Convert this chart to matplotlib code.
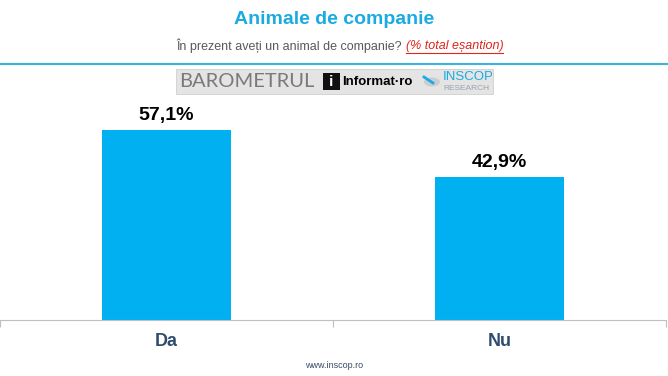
import matplotlib.pyplot as plt
from matplotlib.patches import Rectangle, Circle

plt.rcParams["font.family"] = ["Liberation Sans", "DejaVu Sans"]

categories = ["Da", "Nu"]
values = [57.1, 42.9]
value_labels = ["57,1%", "42,9%"]

title = "Animale de companie"
question = "În prezent aveți un animal de companie? "
base_note = "(% total eșantion)"
footer = "www.inscop.ro"

BAR_COLOR = "#00B0F0"
TITLE_COLOR = "#1AABE2"
CAT_COLOR = "#2F4B6E"

fig = plt.figure(figsize=(6.68, 3.76), dpi=100)
fig.patch.set_facecolor("white")

ax = fig.add_axes([0, 56 / 376, 666 / 668, 220 / 376])
x = list(range(len(categories)))
ax.bar(x, values, width=0.39, color=BAR_COLOR)
for xi, v, lab in zip(x, values, value_labels):
    ax.annotate(lab, (xi, v), xytext=(0, 4), textcoords="offset points",
                ha="center", va="bottom", fontsize=14, fontweight="bold", color="black")
ax.set_xlim(-0.5, len(categories) - 0.5)
ax.set_ylim(0, 66)
ax.set_yticks([])
for s in ["top", "right", "left"]:
    ax.spines[s].set_visible(False)
ax.spines["bottom"].set_color("#BFBFBF")
ax.set_xticks([i - 0.5 for i in range(len(categories) + 1)])
ax.set_xticklabels([])
ax.tick_params(axis="x", which="major", length=5, color="#BFBFBF", direction="out")
ax.set_xticks(x, minor=True)
ax.set_xticklabels(categories, minor=True, fontsize=13, fontweight="bold", color=CAT_COLOR)
ax.tick_params(axis="x", which="minor", length=0, pad=9)
ax.patch.set_alpha(0)

# header
fig.text(0.5, 1 - 19 / 376, title, ha="center", va="center", fontsize=14,
         fontweight="bold", color=TITLE_COLOR)

fig.canvas.draw()
r = fig.canvas.get_renderer()
t1 = fig.text(0, 0, question, fontsize=9, color="#595959")
t2 = fig.text(0, 0, base_note, fontsize=9, color="#E0251B", style="italic")
w1 = t1.get_window_extent(r).width
w2 = t2.get_window_extent(r).width
W = fig.bbox.width
x0 = (W - w1 - w2) / 2 + 6
ysub = 1 - 46 / 376
t1.set_position((x0 / W, ysub))
t2.set_position(((x0 + w1) / W, ysub))
t1.set_va("center")
t2.set_va("center")
fig.add_artist(plt.Line2D([(x0 + w1) / W, (x0 + w1 + w2) / W], [ysub - 7 / 376] * 2,
                          color="#E0251B", lw=0.8, transform=fig.transFigure))

fig.add_artist(plt.Line2D([0, 1], [1 - 64 / 376] * 2, color="#3CB4DC", lw=1.5,
                          transform=fig.transFigure))

# logo band
fy = lambda py: 1 - py / 376
fx = lambda px: px / 668
fig.add_artist(Rectangle((fx(176), fy(94)), fx(317), 25 / 376, transform=fig.transFigure,
                         facecolor="#E4E4E4", edgecolor="#D0D0D0", lw=0.6))
fig.text(fx(179), fy(81.5), "BAROMETRUL", fontsize=14.5, color="#7A7A7A", va="center",
         family="Lato")
fig.add_artist(Rectangle((fx(323), fy(90)), fx(17), 17 / 376, transform=fig.transFigure,
                         facecolor="#111111", edgecolor="none"))
fig.text(fx(331.5), fy(81.5), "i", fontsize=11, color="white", fontweight="bold",
         ha="center", va="center")
fig.text(fx(342), fy(82), "Informat·ro", fontsize=9.5, color="black", fontweight="bold",
         va="center")
fig.add_artist(Circle((fx(432), fy(82)), 8 / 668, transform=fig.transFigure,
                      facecolor="#C9CDD2", edgecolor="none"))
fig.add_artist(plt.Line2D([fx(424), fx(433)], [fy(77), fy(83)], color="#1AABE2", lw=2,
                          transform=fig.transFigure))
fig.text(fx(443), fy(77), "INSCOP", fontsize=9.5, color="#1AABE2", va="center")
fig.text(fx(443), fy(88), "RESEARCH", fontsize=6, color="#9AA3AD", va="center")

fig.text(0.5, 1 - 366 / 376, footer, ha="center", va="center", fontsize=6.5, color="#3A4A66")

fig.savefig("out.png", dpi=100)
